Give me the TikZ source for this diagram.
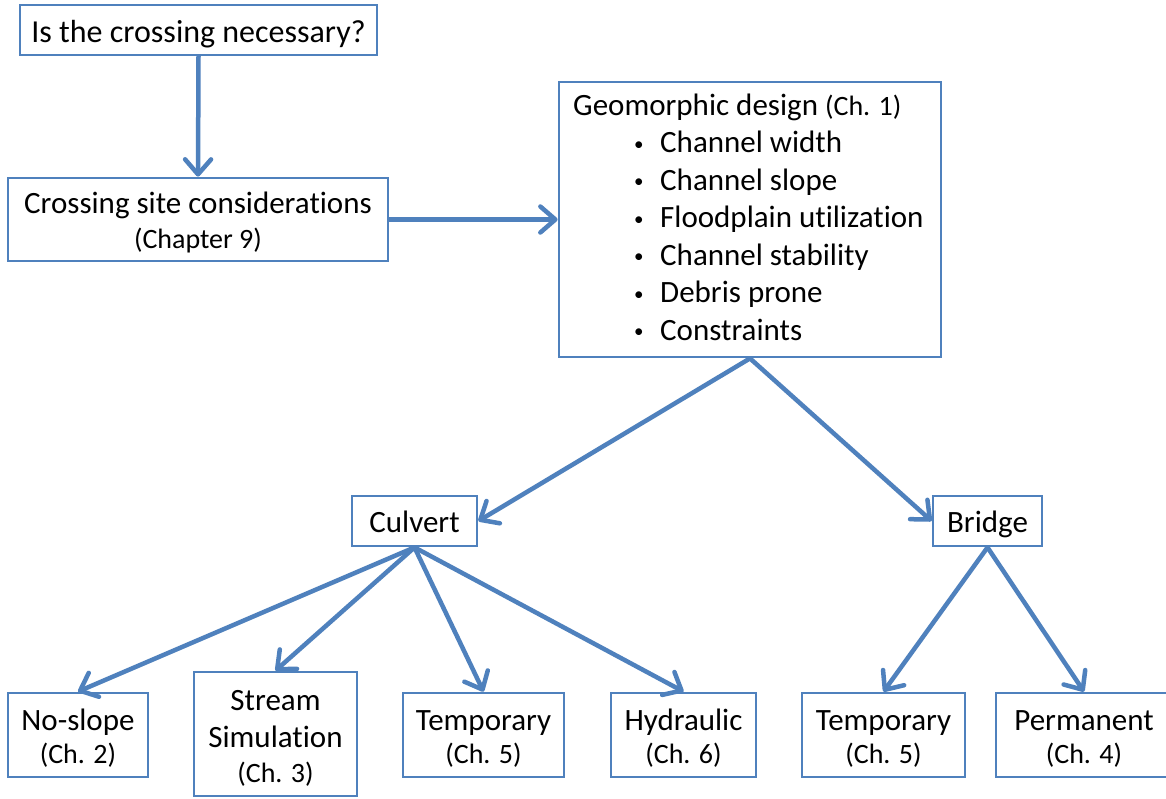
\documentclass[tikz,border=0pt]{standalone}
\usepackage{fontspec}
\setmainfont{Carlito}[Ligatures={NoCommon}]
\usetikzlibrary{arrows.meta}
\definecolor{bl}{HTML}{4F81BD}
\newcommand\fsmain{\fontsize{31}{37.5}\selectfont}
\newcommand\fssub{\fontsize{28}{31}\selectfont}
\newcommand\topst[1]{\rule{0pt}{#1}}
\newcommand\botst{\rule[-8pt]{0pt}{8pt}}
\newcommand\blt{\makebox[26pt][l]{\raisebox{2.5pt}{\fontsize{19}{20}\selectfont •}}}
\tikzset{
  box/.style={draw=bl, line width=2.8pt, rectangle, inner sep=0pt, align=center, font=\fsmain},
  conn/.style={draw=bl, line width=4.5pt, line cap=round,
    -{Straight Barb[length=15pt,width=26pt,line cap=round,line join=round]}},
  txt/.style={anchor=base west, inner sep=0pt, font=\fsmain},
}
\begin{document}
\begin{tikzpicture}[x=1pt,y=-1pt]
\useasboundingbox (0,0) rectangle (1166,798);
\fill[white] (0,0) rectangle (1166,798);

\node[box, minimum width=357pt, minimum height=50pt, font=\fontsize{32}{38}\selectfont,
  text height=26pt, text depth=2pt] (q) at (198.5,30) {Is the crossing necessary?};
\node[box, minimum width=380pt, minimum height=83pt] (site) at (198,219.5)
  {\topst{30pt}Crossing site considerations\\[-2.5pt]\fssub (Chapter 9)\botst};
\node[box, minimum width=382pt, minimum height=275pt] (geo) at (750,219.5) {};
\node[txt] (g0) at (573,115) {Geomorphic design {\fssub (Ch. 1)}};
\node[txt] (g1) at (634,152.5) {\blt Channel width};
\node[txt] (g2) at (634,190) {\blt Channel slope};
\node[txt] (g3) at (634,227.5) {\blt Floodplain utilization};
\node[txt] (g4) at (634,265) {\blt Channel stability};
\node[txt] (g5) at (634,302.5) {\blt Debris prone};
\node[txt] (g6) at (634,340) {\blt Constraints};

\node[box, minimum width=125pt, minimum height=50pt, text height=26pt, text depth=4pt]
  (culvert) at (414.5,521) {Culvert};
\node[box, minimum width=109pt, minimum height=50pt, text height=26pt, text depth=4pt]
  (bridge) at (987.5,521) {Bridge};

\node[box, minimum width=140pt, minimum height=84pt] (noslope) at (78,735)
  {\topst{31pt}No-slope\\[-4.5pt]\fssub (Ch. 2)\botst};
\node[box, minimum width=163pt, minimum height=124pt] (stream) at (275.5,734)
  {\topst{32.5pt}Stream\\[-0.5pt]Simulation\\[-2.5pt]\fssub (Ch. 3)\botst};
\node[box, minimum width=161pt, minimum height=84pt] (temp1) at (483.5,735)
  {\topst{31pt}Temporary\\[-4.5pt]\fssub (Ch. 5)\botst};
\node[box, minimum width=145pt, minimum height=84pt] (hyd) at (683.5,735)
  {\topst{31pt}Hydraulic\\[-4.5pt]\fssub (Ch. 6)\botst};
\node[box, minimum width=163pt, minimum height=84pt] (temp2) at (883.5,735)
  {\topst{31pt}Temporary\\[-4.5pt]\fssub (Ch. 5)\botst};
\node[box, minimum width=176pt, minimum height=84pt] (perm) at (1084,735)
  {\topst{31pt}Permanent\\[-4.5pt]\fssub (Ch. 4)\botst};

\draw[conn] (q.south) -- (site.north);
\draw[conn] (site.east) -- (geo.west);
\draw[conn] (geo.south) -- (culvert.east);
\draw[conn] (geo.south) -- (bridge.west);
\draw[conn] (culvert.south) -- (noslope.north);
\draw[conn] (culvert.south) -- (stream.north);
\draw[conn] (culvert.south) -- (temp1.north);
\draw[conn] (culvert.south) -- (hyd.north);
\draw[conn] (bridge.south) -- (temp2.north);
\draw[conn] (bridge.south) -- (perm.north);
\end{tikzpicture}
\end{document}
